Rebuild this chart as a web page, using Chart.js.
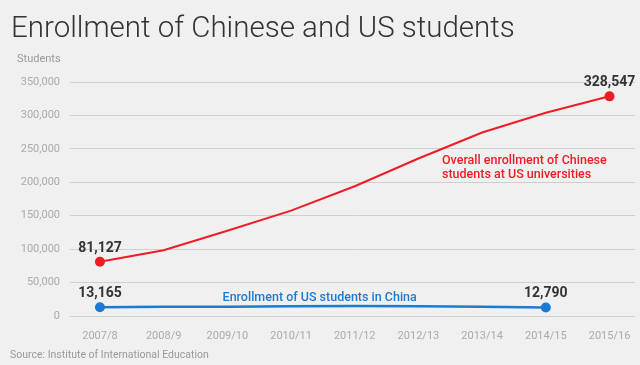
<!DOCTYPE html>
<html>
<head>
<meta charset="utf-8">
<script src="https://cdn.jsdelivr.net/npm/chart.js@4/dist/chart.umd.min.js"></script>
<style>
  html, body { margin: 0; padding: 0; background: #f0f0f0; }
  #wrap { position: relative; width: 640px; height: 365px; }
</style>
</head>
<body>
<div id="wrap"><canvas id="c" width="640" height="365"></canvas></div>
<script>
// years on the x axis
const years = ['2007/8', '2008/9', '2009/10', '2010/11', '2011/12', '2012/13', '2013/14', '2014/15', '2015/16'];
// Chinese students at US universities
const chinaInUs = [81127, 98235, 127628, 157558, 194029, 235597, 274439, 304040, 328547];
// US students in China (no value for 2015/16)
const usInChina = [13165, 13674, 13910, 14596, 14887, 14413, 13763, 12790, null];
const yTicks = [0, 50000, 100000, 150000, 200000, 250000, 300000, 350000];

const RED = '#ee1c25';
const BLUE = '#1b7bd3';
const fmt = v => v.toLocaleString('en-US');

// only the first and last point of each series get a dot
const endDots = arr => {
  const last = arr.map((v, i) => v == null ? -1 : i).reduce((a, b) => Math.max(a, b));
  return arr.map((v, i) => (i === 0 || i === last) ? 5 : 0);
};

const textPlugin = {
  id: 'texts',
  afterDatasetsDraw(chart) {
    const { ctx } = chart;
    const x = chart.scales.x, y = chart.scales.y;
    ctx.save();
    // title
    ctx.fillStyle = '#333';
    ctx.font = '300 29.5px Roboto';
    ctx.textBaseline = 'alphabetic';
    ctx.textAlign = 'left';
    ctx.fillText('Enrollment of Chinese and US students', 11, 37);
    // axis caption + source
    ctx.fillStyle = '#999';
    ctx.font = '11px Roboto';
    ctx.fillText('Students', 17, 62);
    ctx.font = '10.5px Roboto';
    ctx.fillText('Source: Institute of International Education', 10, 358);

    // value labels above end points
    ctx.font = 'bold 14px Roboto';
    ctx.fillStyle = '#333';
    ctx.textAlign = 'center';
    [[chinaInUs, 0], [chinaInUs, 8], [usInChina, 0], [usInChina, 7]].forEach(([arr, i]) => {
      ctx.fillText(fmt(arr[i]), x.getPixelForValue(i), y.getPixelForValue(arr[i]) - 10);
    });

    // series annotations
    ctx.font = '500 12.5px Roboto';
    ctx.fillStyle = RED;
    ctx.textAlign = 'left';
    ctx.fillText('Overall enrollment of Chinese', x.getPixelForValue(5.37), y.getPixelForValue(228000));
    ctx.fillText('students at US universities', x.getPixelForValue(5.37), y.getPixelForValue(207000));
    ctx.fillStyle = BLUE;
    ctx.textAlign = 'center';
    ctx.fillText('Enrollment of US students in China', x.getPixelForValue(3.45), y.getPixelForValue(22500));
    ctx.restore();
  }
};

new Chart(document.getElementById('c'), {
  type: 'line',
  data: {
    datasets: [
      {
        data: chinaInUs.map((v, i) => ({ x: i, y: v })),
        borderColor: RED,
        backgroundColor: RED,
        borderWidth: 2,
        pointRadius: endDots(chinaInUs),
        pointBorderWidth: 0,
        tension: 0
      },
      {
        data: usInChina.map((v, i) => ({ x: i, y: v })).filter(p => p.y != null),
        borderColor: BLUE,
        backgroundColor: BLUE,
        borderWidth: 2.5,
        pointRadius: endDots(usInChina.filter(v => v != null)),
        pointBorderWidth: 0,
        tension: 0
      }
    ]
  },
  options: {
    responsive: false,
    animation: false,
    layout: { padding: { top: 82, right: 0, left: 0, bottom: 25 } },
    plugins: { legend: { display: false }, tooltip: { enabled: false }, title: { display: false } },
    scales: {
      x: {
        type: 'linear',
        min: -0.47,
        max: 8.4,
        grid: { display: false },
        border: { display: false },
        afterFit: s => { s.height = 24; },
        afterBuildTicks: s => { s.ticks = years.map((_, i) => ({ value: i })); },
        ticks: {
          color: '#aaa',
          font: { family: 'Roboto', size: 11 },
          padding: 6,
          maxRotation: 0,
          autoSkip: false,
          callback: v => years[v]
        }
      },
      y: {
        min: 0,
        max: 350000,
        afterFit: s => { s.width = 70; },
        afterBuildTicks: s => { s.ticks = yTicks.map(v => ({ value: v })); },
        grid: { color: '#cfcfcf', lineWidth: 1, drawTicks: false },
        border: { display: false },
        ticks: {
          color: '#aaa',
          font: { family: 'Roboto', size: 11 },
          padding: 10,
          callback: v => fmt(v)
        }
      }
    }
  },
  plugins: [textPlugin]
});
</script>
</body>
</html>
